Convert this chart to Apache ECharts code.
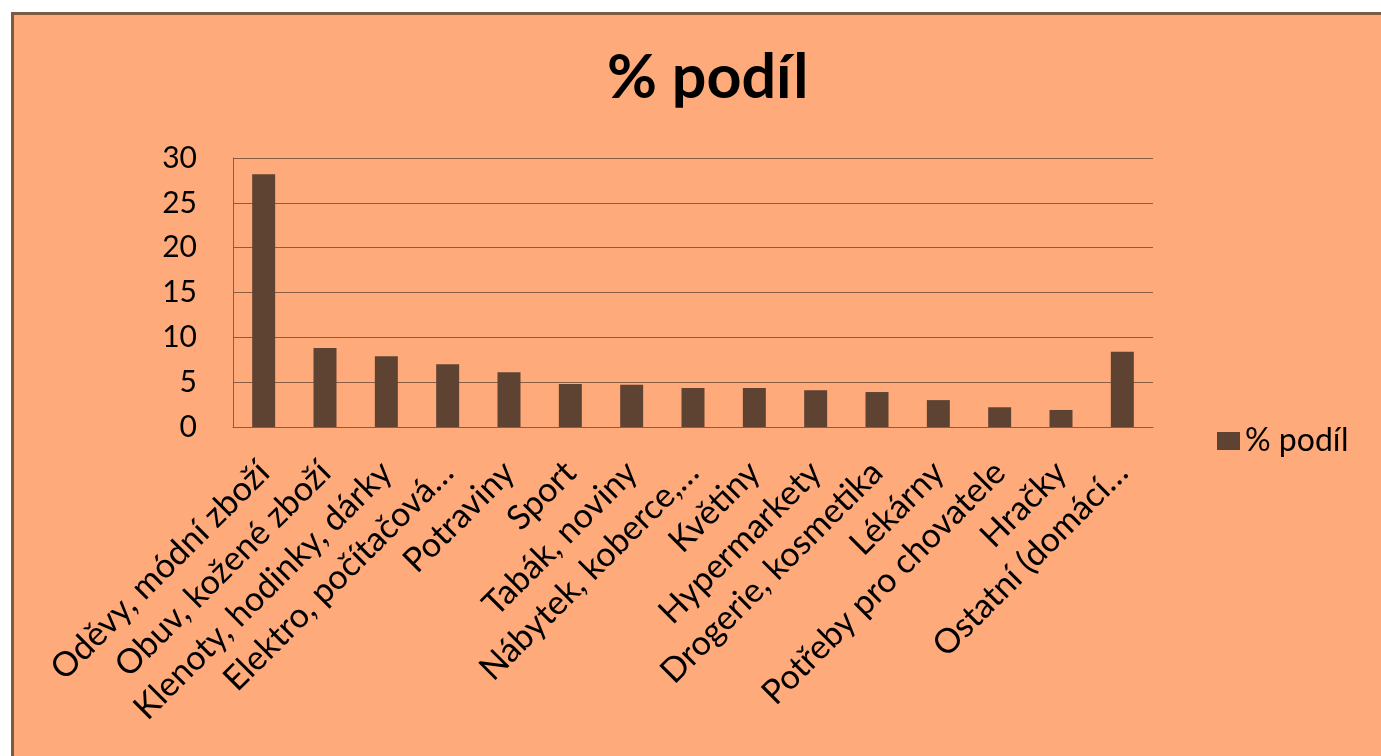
<!DOCTYPE html>
<html>
<head>
<meta charset="utf-8">
<script src="https://cdn.jsdelivr.net/npm/echarts@6/dist/echarts.min.js"></script>
<style>
  html, body { margin: 0; padding: 0; background: #ffffff; width: 1381px; height: 756px; overflow: hidden; }
  #frame { position: absolute; left: 11px; top: 12px; width: 1400px; height: 800px; border: 3px solid #7E5A43; background: #FFAA7B; }
  #chart { position: absolute; left: 14px; top: 15px; width: 1367px; height: 741px; }
</style>
</head>
<body>
<div id="frame"></div>
<div id="chart"></div>
<script>
const categories = [
  "Oděvy, módní zboží",
  "Obuv, kožené zboží",
  "Klenoty, hodinky, dárky",
  "Elektro, počítačová…",
  "Potraviny",
  "Sport",
  "Tabák, noviny",
  "Nábytek, koberce,…",
  "Květiny",
  "Hypermarkety",
  "Drogerie, kosmetika",
  "Lékárny",
  "Potřeby pro chovatele",
  "Hračky",
  "Ostatní (domácí…"
];
const podil = [28.2, 8.8, 7.9, 7.0, 6.1, 4.8, 4.7, 4.35, 4.35, 4.1, 3.9, 3.0, 2.2, 1.9, 8.4];
const seriesName = "% podíl";
const titleText = "% podíl";

const chart = echarts.init(document.getElementById('chart'), null, { renderer: 'canvas' });
const font = 'Lato, "Open Sans", sans-serif';
chart.setOption({
  backgroundColor: 'transparent',
  animation: false,
  title: {
    text: titleText,
    left: 588,
    top: 28,
    textStyle: { fontFamily: font, fontWeight: 'bold', fontSize: 61, color: '#000000' }
  },
  legend: {
    data: [seriesName],
    left: 1198,
    top: 405,
    itemWidth: 23,
    itemHeight: 18,
    itemGap: 8,
    icon: 'rect',
    textStyle: { fontFamily: font, fontSize: 32, color: '#000000' }
  },
  grid: { left: 219, top: 143, width: 920, height: 269, containLabel: false },
  xAxis: {
    type: 'category',
    data: categories,
    axisLine: { show: true, lineStyle: { color: '#8A5E44', width: 1 } },
    axisTick: { show: false },
    axisLabel: { rotate: 45, interval: 0, margin: 40, fontFamily: font, fontSize: 34, color: '#000000' }
  },
  yAxis: {
    type: 'value',
    min: 0, max: 30, interval: 5,
    axisLine: { show: true, lineStyle: { color: '#8A5E44', width: 1 } },
    axisTick: { show: false },
    splitLine: { show: true, lineStyle: { color: '#8A5E44', width: 1 } },
    axisLabel: { margin: 36, fontFamily: font, fontSize: 30, color: '#000000' }
  },
  series: [{
    name: seriesName,
    type: 'bar',
    data: podil,
    barWidth: 23,
    itemStyle: { color: '#5E4333' }
  }]
});
</script>
</body>
</html>
